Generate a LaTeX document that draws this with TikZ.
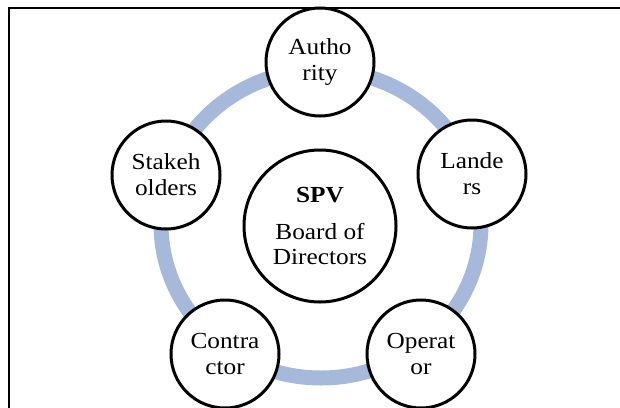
\documentclass[tikz,border=0pt]{standalone}
\usepackage{fontspec}
\setmainfont{Liberation Serif}[FakeStretch=1.1]
\definecolor{ringblue}{RGB}{166,185,218}
\begin{document}
\begin{tikzpicture}[x=1pt,y=-1pt,
  member/.style={circle,draw=black,line width=3pt,fill=white,minimum size=108pt,inner sep=0pt,align=center,font=\fontsize{23}{26}\selectfont},
  hub/.style={circle,draw=black,line width=3pt,fill=white,minimum size=152pt,inner sep=0pt,align=center,font=\fontsize{23}{25}\selectfont},
  ring/.style={draw=ringblue,line width=15pt},
  frameline/.style={draw=black,line width=2pt}]
\useasboundingbox (0,0) rectangle (620,407);
\draw[frameline] (9,420) -- (9,8) -- (630,8);
\coordinate (c) at (321,224);
\draw[ring] (c) ellipse[x radius=160pt,y radius=154pt];
\node[member] (auth) at (320,62) {Autho\\rity};
\node[member] (stake) at (166,175) {Stakeh\\olders};
\node[member] (land) at (472,174) {Lande\\rs};
\node[member] (contr) at (225,354) {Contra\\ctor};
\node[member] (oper) at (421,354) {Operat\\or};
\node[hub] (spv) at (320,226) {\textbf{SPV}\\[12pt]Board of\\Directors};
\end{tikzpicture}
\end{document}
